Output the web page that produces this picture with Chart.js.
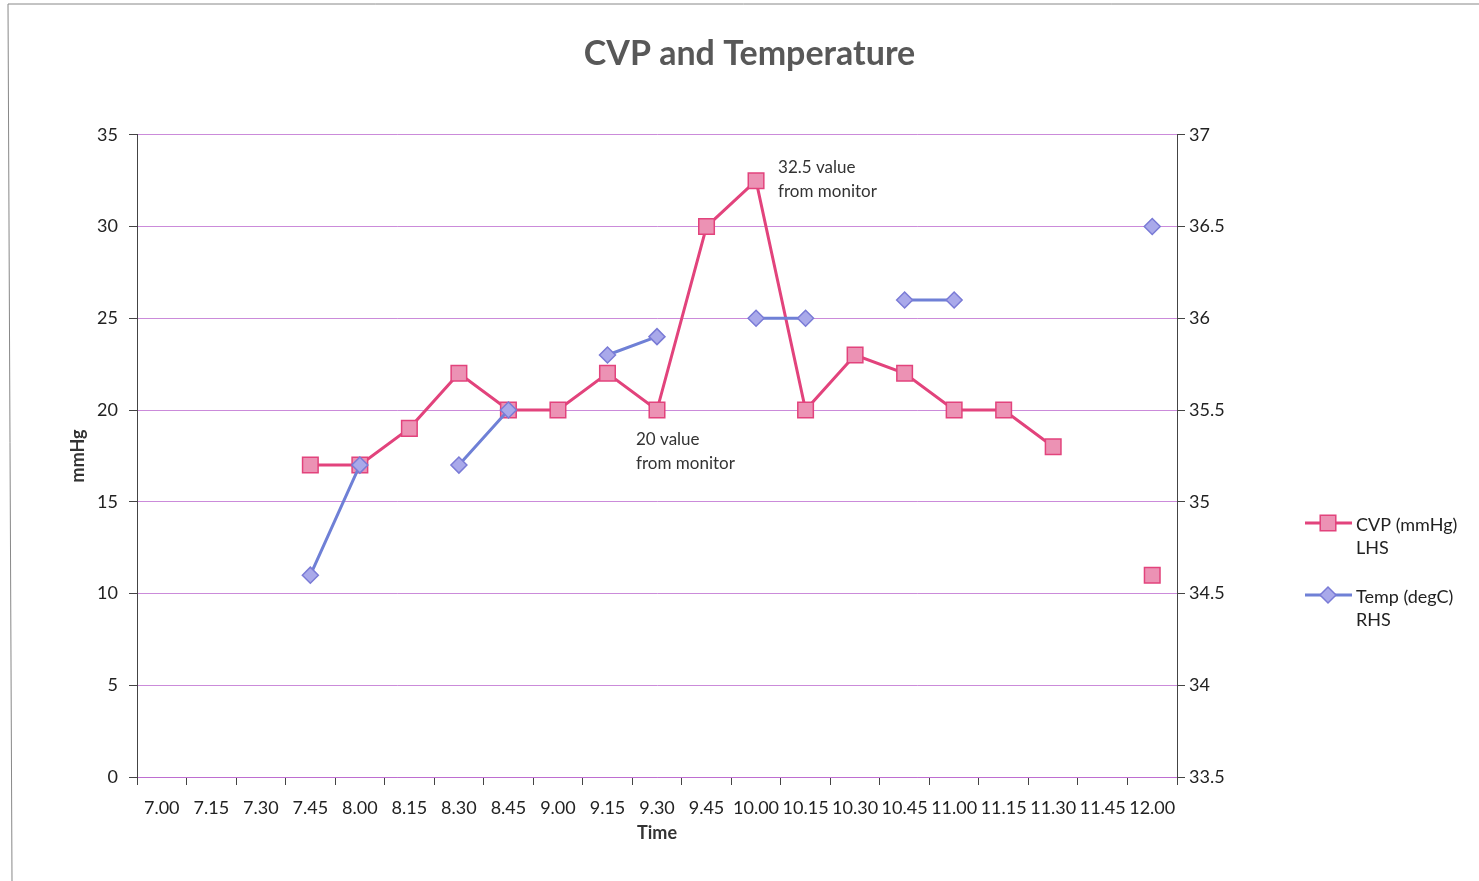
<!DOCTYPE html>
<html>
<head>
<meta charset="utf-8">
<title>CVP and Temperature</title>
<script src="https://cdn.jsdelivr.net/npm/chart.js@4/dist/chart.umd.min.js"></script>
<style>
  body { margin: 0; background: #fff; }
  canvas { display: block; }
</style>
</head>
<body>
<canvas id="cvpChart" width="1479" height="881"></canvas>
<script>
// time of reading (15 min steps)
const times = ['7.00', '7.15', '7.30', '7.45', '8.00', '8.15', '8.30', '8.45', '9.00', '9.15', '9.30',
  '9.45', '10.00', '10.15', '10.30', '10.45', '11.00', '11.15', '11.30', '11.45', '12.00'];

// CVP in mmHg (left axis), null = no reading
const cvp = [null, null, null, 17, 17, 19, 22, 20, 20, 22, 20, 30, 32.5, 20, 23, 22, 20, 20, 18, null, 11];

// temperature in degC (right axis)
const temp = [null, null, null, 34.6, 35.2, null, 35.2, 35.5, null, 35.8, 35.9, null, 36.0, 36.0, null, 36.1, 36.1, null, null, null, 36.5];

const cvpTicks = [0, 5, 10, 15, 20, 25, 30, 35];
const tempTicks = [33.5, 34, 34.5, 35, 35.5, 36, 36.5, 37];

const legendLabels = [['CVP (mmHg)', 'LHS'], ['Temp (degC)', 'RHS']];

// notes written next to two of the CVP points
const notes = [
  { index: 12, value: 32.5, lines: ['32.5 value', 'from monitor'], dx: 22, dy: -13 },
  { index: 10, value: 20, lines: ['20 value', 'from monitor'], dx: -21, dy: 29 }
];

const FONT = 'Lato, "Open Sans", sans-serif';
const gridColor = 'rgba(185, 100, 205, 0.75)';

// notes and the two-line legend on the right
const extrasPlugin = {
  id: 'extras',
  beforeDraw(chart) {
    const ctx = chart.ctx;
    ctx.save();
    ctx.strokeStyle = '#888';
    ctx.lineWidth = 1;
    ctx.beginPath();
    ctx.moveTo(8, 4);
    ctx.lineTo(1479, 4);
    ctx.moveTo(8, 4);
    ctx.lineTo(12, 881);
    ctx.stroke();
    ctx.restore();
  },
  afterDraw(chart) {
    const ctx = chart.ctx;
    const xs = chart.scales.x;
    const ys = chart.scales.y;
    ctx.save();
    ctx.font = '17px ' + FONT;
    ctx.fillStyle = '#333';
    ctx.textBaseline = 'middle';
    ctx.textAlign = 'left';
    notes.forEach(n => {
      const px = xs.getPixelForValue(n.index) + n.dx;
      const py = ys.getPixelForValue(n.value) + n.dy;
      n.lines.forEach((line, i) => ctx.fillText(line, px, py + i * 24));
    });

    // legend
    const lx = 1305;
    const rows = [523, 595];
    chart.data.datasets.forEach((ds, i) => {
      const y = rows[i];
      ctx.strokeStyle = ds.borderColor;
      ctx.lineWidth = 3;
      ctx.beginPath();
      ctx.moveTo(lx, y);
      ctx.lineTo(lx + 47, y);
      ctx.stroke();
      ctx.fillStyle = ds.pointBackgroundColor;
      ctx.strokeStyle = ds.pointBorderColor;
      ctx.lineWidth = ds.pointBorderWidth;
      Chart.helpers.drawPoint(ctx, { pointStyle: ds.pointStyle, radius: ds.pointRadius, rotation: 0, borderWidth: ds.pointBorderWidth }, lx + 23, y);
      ctx.fillStyle = '#222';
      ctx.font = '18px ' + FONT;
      legendLabels[i].forEach((t, k) => ctx.fillText(t, lx + 51, y + 2 + k * 23));
    });
    ctx.restore();
  }
};

const ctx = document.getElementById('cvpChart').getContext('2d');
const cvpChart = new Chart(ctx, {
  type: 'line',
  data: {
    labels: times,
    datasets: [{
      label: 'CVP (mmHg) LHS',
      data: cvp,
      yAxisID: 'y',
      borderColor: '#E2437C',
      borderWidth: 3,
      pointStyle: 'rect',
      pointRadius: 11,
      pointHoverRadius: 11,
      pointBackgroundColor: '#EC92B4',
      pointBorderColor: '#E2437C',
      pointBorderWidth: 1.5,
      tension: 0,
      order: 1
    }, {
      label: 'Temp (degC) RHS',
      data: temp,
      yAxisID: 'y2',
      borderColor: '#6F80D6',
      borderWidth: 3,
      pointStyle: 'rectRot',
      pointRadius: 8,
      pointHoverRadius: 8,
      pointBackgroundColor: '#A9A9EA',
      pointBorderColor: '#7A7BD6',
      pointBorderWidth: 1.5,
      tension: 0,
      order: 0
    }]
  },
  options: {
    responsive: false,
    animation: false,
    devicePixelRatio: 1,
    layout: { padding: { left: 20, right: 0, top: 0, bottom: 0 } },
    plugins: {
      legend: { display: false },
      tooltip: { enabled: false },
      title: {
        display: true,
        text: 'CVP and Temperature',
        color: '#585858',
        font: { family: FONT, size: 34, weight: 'bold' },
        padding: { top: 34, bottom: 60 }
      }
    },
    scales: {
      x: {
        offset: true,
        grid: { offset: true, drawOnChartArea: false, tickLength: 8, tickColor: '#444' },
        border: { display: true, color: gridColor },
        ticks: { autoSkip: false, maxRotation: 0, padding: 12, color: '#222', font: { family: FONT, size: 18 } },
        title: { display: true, text: 'Time', color: '#333', font: { family: FONT, size: 18, weight: 'bold' }, padding: { top: 2, bottom: 37 } },
        afterFit: scale => { scale.height = 104; }
      },
      y: {
        position: 'left',
        min: 0,
        max: 35,
        afterBuildTicks: scale => { scale.ticks = cvpTicks.map(v => ({ value: v })); },
        grid: { color: gridColor, tickColor: '#444', tickLength: 8 },
        border: { display: true, color: '#444' },
        ticks: { padding: 11, color: '#222', font: { family: FONT, size: 18 }, callback: v => String(v) },
        title: { display: true, text: 'mmHg', color: '#333', font: { family: FONT, size: 18, weight: 'bold' }, padding: { top: 47, bottom: 4 } },
        afterFit: scale => { scale.width = 117; }
      },
      y2: {
        position: 'right',
        min: 33.5,
        max: 37,
        afterBuildTicks: scale => { scale.ticks = tempTicks.map(v => ({ value: v })); },
        grid: { drawOnChartArea: false, tickColor: '#444', tickLength: 8 },
        border: { display: true, color: '#444' },
        ticks: { padding: 4, color: '#222', font: { family: FONT, size: 18 }, callback: v => String(v) },
        afterFit: scale => { scale.width = 302; }
      }
    }
  },
  plugins: [extrasPlugin]
});
</script>
</body>
</html>
